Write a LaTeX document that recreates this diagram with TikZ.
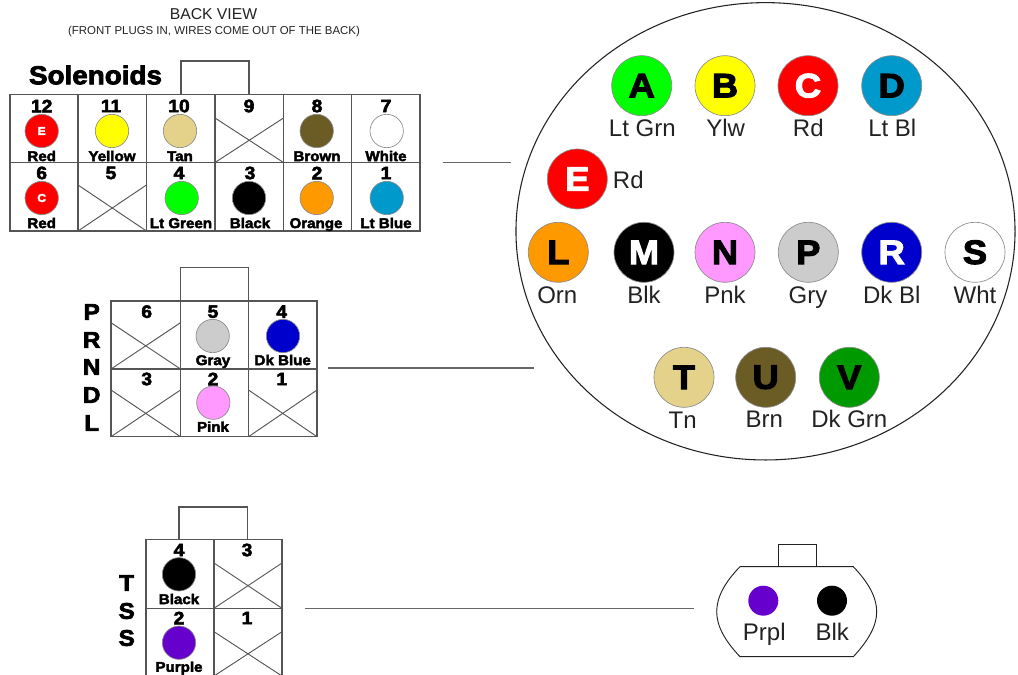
\documentclass[tikz,border=0pt]{standalone}
\usepackage{fontspec}
\usetikzlibrary{shapes.geometric}
\setmainfont{Liberation Sans}
\newfontfamily\heavyfont[FakeBold=3,FakeStretch=1.07]{Liberation Sans Bold}

\definecolor{ltgrn}{HTML}{00FF00}
\definecolor{ylw}{HTML}{FFFF00}
\definecolor{rd}{HTML}{FF0000}
\definecolor{ltbl}{HTML}{0099CC}
\definecolor{orn}{HTML}{FF9900}
\definecolor{pnk}{HTML}{FF99FF}
\definecolor{gry}{HTML}{CCCCCC}
\definecolor{dkbl}{HTML}{0000CC}
\definecolor{tn}{HTML}{E5D28A}
\definecolor{brn}{HTML}{6B5B24}
\definecolor{dkgrn}{HTML}{009900}
\definecolor{prpl}{HTML}{6600CC}
\definecolor{ink}{HTML}{222222}
\definecolor{rule}{HTML}{555555}

\tikzstyle{pin}= [circle,draw=black!45,line width=0.5pt,inner sep=0pt,minimum size=25pt]
\tikzstyle{socket}= [circle,draw=black!45,line width=0.5pt,inner sep=0pt,minimum size=45pt,text=black,font=\heavyfont\fontsize{25.5}{25.5}\selectfont]
\tikzstyle{plugpin}= [circle,inner sep=0pt,minimum size=22.5pt]
\tikzstyle{num}= [inner sep=0pt,text=black,font=\heavyfont\fontsize{13.5}{13.5}\selectfont]
\tikzstyle{wire}= [inner sep=0pt,text height=7.6pt,text depth=0pt,text=black,font=\heavyfont\fontsize{10.6}{10.6}\selectfont]
\tikzstyle{side}= [inner sep=0pt,text=black,font=\heavyfont\fontsize{17}{17}\selectfont]
\tikzstyle{colorname}= [inner sep=0pt,anchor=base,text=ink,font=\fontsize{18}{18}\selectfont]
\tikzstyle{grid}= [draw=rule,line width=1.1pt]
\tikzstyle{cross}= [draw=rule,line width=0.7pt]
\tikzstyle{lead}= [draw=rule!90,line width=1pt]

\begin{document}
\begin{tikzpicture}[x=0.75pt,y=-0.75pt]
		\useasboundingbox (0,0) rectangle (1018,675);

		\node (back) at (213.5,14) [inner sep=0pt,text=ink,font=\fontsize{11.8}{11.8}\selectfont] {BACK VIEW};
		\node (front) at (214,32) [inner sep=0pt,text=ink,font=\fontsize{8.58}{8.58}\selectfont] {(FRONT PLUGS IN, WIRES COME OUT OF THE BACK)};

		% solenoids
		\node (sol) at (95.5,75) [inner sep=0pt,text=black,font=\heavyfont\fontsize{19.5}{19.5}\selectfont] {Solenoids};
		\draw[grid] (181,94.5) -- (181,61) -- (249,61) -- (249,94.5);
		\draw[grid] (10,94.5) rectangle (420,231);
		\draw[grid] (10,162.5) -- (420,162.5);
		\draw[grid] (78,94.5) -- (78,231);
		\draw[grid] (146.5,94.5) -- (146.5,231);
		\draw[grid] (215,94.5) -- (215,231);
		\draw[grid] (283.5,94.5) -- (283.5,231);
		\draw[grid] (351.5,94.5) -- (351.5,231);
		\draw[cross] (215,118) -- (283.5,162.5);
		\draw[cross] (215,162.5) -- (283.5,118);
		\draw[cross] (78,185) -- (146.5,231);
		\draw[cross] (78,231) -- (146.5,185);

		\node (s12) at (41.7,106) [num] {12};
		\node (s11) at (111,106) [num] {11};
		\node (s10) at (179,106) [num] {10};
		\node (s9) at (249,106) [num] {9};
		\node (s8) at (317,106) [num] {8};
		\node (s7) at (386,106) [num] {7};
		\node (s6) at (41.7,173) [num] {6};
		\node (s5) at (111,173) [num] {5};
		\node (s4) at (179,173) [num] {4};
		\node (s3) at (250,173) [num] {3};
		\node (s2) at (317,173) [num] {2};
		\node (s1) at (386,173) [num] {1};

		\node (p12) at (41.7,131) [pin,fill=rd,text=white,font=\heavyfont\fontsize{8.5}{8.5}\selectfont] {E};
		\node (p11) at (112,131) [pin,fill=ylw] {};
		\node (p10) at (180,131) [pin,fill=tn] {};
		\node (p8) at (316.7,131) [pin,fill=brn] {};
		\node (p7) at (386.7,131) [pin,fill=white] {};
		\node (p6) at (41.7,198) [pin,fill=rd,text=white,font=\heavyfont\fontsize{8.5}{8.5}\selectfont] {C};
		\node (p4) at (181.7,198) [pin,fill=ltgrn] {};
		\node (p3) at (249,198) [pin,fill=black] {};
		\node (p2) at (316.7,198) [pin,fill=orn] {};
		\node (p1) at (386.7,198) [pin,fill=ltbl] {};

		\node (w12) at (41.7,156) [wire] {Red};
		\node (w11) at (112,156) [wire] {Yellow};
		\node (w10) at (180,156) [wire] {Tan};
		\node (w8) at (317,156) [wire] {Brown};
		\node (w7) at (386,156) [wire] {White};
		\node (w6) at (41.7,223) [wire] {Red};
		\node (w4) at (181,223) [wire] {Lt Green};
		\node (w3) at (250,223) [wire] {Black};
		\node (w2) at (316,223) [wire] {Orange};
		\node (w1) at (386,223) [wire] {Lt Blue};

		% prndl
		\node (lp) at (91.7,312) [side] {P};
		\node (lr) at (91.7,340) [side] {R};
		\node (ln) at (91.7,367) [side] {N};
		\node (ld) at (91.7,395) [side] {D};
		\node (ll) at (91.7,423) [side] {L};
		\draw[grid] (180.5,301) -- (180.5,267.5) -- (248.5,267.5) -- (248.5,301);
		\draw[grid] (111,301) rectangle (317,436.7);
		\draw[grid] (111,369) -- (317,369);
		\draw[grid] (180.5,301) -- (180.5,436.7);
		\draw[grid] (248.5,301) -- (248.5,436.7);
		\draw[cross] (111,322.7) -- (180.5,369);
		\draw[cross] (111,369) -- (180.5,322.7);
		\draw[cross] (111,390) -- (180.5,436.7);
		\draw[cross] (111,436.7) -- (180.5,390);
		\draw[cross] (248.5,390) -- (317,436.7);
		\draw[cross] (248.5,436.7) -- (317,390);

		\node (n6) at (146.7,311.7) [num] {6};
		\node (n5) at (213,311.7) [num] {5};
		\node (n4) at (281.7,311.7) [num] {4};
		\node (n3) at (146.7,379) [num] {3};
		\node (n2) at (213,379) [num] {2};
		\node (n1) at (281.7,379) [num] {1};

		\node (q5) at (212.7,336) [pin,fill=gry] {};
		\node (q4) at (283,336) [pin,fill=dkbl] {};
		\node (q2) at (213.3,402.7) [pin,fill=pnk] {};

		\node (x5) at (213,360) [wire] {Gray};
		\node (x4) at (282.7,360) [wire] {Dk Blue};
		\node (x2) at (213,426.7) [wire] {Pink};

		% tss
		\node (lt) at (126.7,583) [side] {T};
		\node (ls1) at (126.7,611) [side] {S};
		\node (ls2) at (126.7,638) [side] {S};
		\draw[grid] (179,539.3) -- (179,507) -- (247.5,507) -- (247.5,539.3);
		\draw[grid] (146,675) -- (146,539.3) -- (282,539.3) -- (282,675);
		\draw[grid] (146,608.3) -- (282,608.3);
		\draw[grid] (214,539.3) -- (214,675);
		\draw[cross] (214,563) -- (282,608.3);
		\draw[cross] (214,608.3) -- (282,563);
		\draw[cross] (214,631.7) -- (282,676);
		\draw[cross] (214,676) -- (282,631.7);

		\node (t4) at (179,550) [num] {4};
		\node (t3) at (247,550) [num] {3};
		\node (t2) at (179,618) [num] {2};
		\node (t1) at (247,618) [num] {1};

		\node (u4) at (179,574.3) [pin,fill=black] {};
		\node (u2) at (179,642.7) [pin,fill=prpl] {};

		\node (y4) at (179,599) [wire] {Black};
		\node (y2) at (179,666.7) [wire] {Purple};

		% big plug
		\node (plug) at (765.5,231.3) [ellipse,draw=ink,line width=0.8pt,inner sep=0pt,minimum width=374.3pt,minimum height=343pt] {};

		\node (a) at (641.7,85.7) [socket,fill=ltgrn] {A};
		\node (b) at (725,85.7) [socket,fill=ylw] {B};
		\node (c) at (808,85.7) [socket,fill=rd,text=white] {C};
		\node (d) at (891.7,85.7) [socket,fill=ltbl] {D};
		\node (e) at (577.3,179) [socket,fill=rd,text=white] {E};
		\node (l) at (558.3,252.3) [socket,fill=orn] {L};
		\node (m) at (644,252.3) [socket,fill=black,text=white] {M};
		\node (n) at (725,252.3) [socket,fill=pnk] {N};
		\node (pp) at (808.3,252.3) [socket,fill=gry] {P};
		\node (r) at (891.7,252.3) [socket,fill=dkbl,text=white] {R};
		\node (s) at (975,252.3) [socket,fill=white] {S};
		\node (tt) at (684,377.3) [socket,fill=tn] {T};
		\node (uu) at (765.7,377.3) [socket,fill=brn] {U};
		\node (v) at (849.3,377.3) [socket,fill=dkgrn] {V};

		\node (ca) at (642.3,136.7) [colorname] {Lt Grn};
		\node (cb) at (725.7,136.7) [colorname] {Ylw};
		\node (cc) at (808.3,136.7) [colorname] {Rd};
		\node (cd) at (892.3,136.7) [colorname] {Lt Bl};
		\node (ce) at (628.3,188.3) [colorname] {Rd};
		\node (cl) at (557.3,303.3) [colorname] {Orn};
		\node (cm) at (644,303.3) [colorname] {Blk};
		\node (cn) at (725,303.3) [colorname] {Pnk};
		\node (cp) at (808,303.3) [colorname] {Gry};
		\node (cr) at (891.7,303.3) [colorname] {Dk Bl};
		\node (cs) at (975,303.3) [colorname] {Wht};
		\node (ct) at (682.7,428.3) [colorname] {Tn};
		\node (cu) at (764.3,427.3) [colorname] {Brn};
		\node (cv) at (849.3,427.3) [colorname] {Dk Grn};

		% small plug
		\draw[draw=ink,line width=0.7pt] (778,566.7) -- (778,544) -- (816,544) -- (816,566.7);
		\draw[draw=ink,line width=0.7pt] (740,566.7) -- (853.3,566.7)
			.. controls (868,582) and (876.7,597) .. (876.7,611.7)
			.. controls (876.7,626) and (868,641) .. (853.3,656.7)
			-- (740,656.7)
			.. controls (725,641) and (716.7,626) .. (716.7,611.7)
			.. controls (716.7,597) and (725,582) .. (740,566.7) -- cycle;

		\node (prp) at (763.3,600.7) [plugpin,fill=prpl] {};
		\node (blk) at (832,600.7) [plugpin,fill=black] {};
		\node (cprp) at (764.3,640) [colorname] {Prpl};
		\node (cblk) at (832.3,640) [colorname] {Blk};

		% leads
		\coordinate (sol1) at (443,162.5);
		\coordinate (sol2) at (511,162.5);
		\coordinate (prn1) at (328,368);
		\coordinate (prn2) at (534,368);
		\coordinate (tss1) at (305,608.5);
		\coordinate (tss2) at (694,608.5);
		\path[lead] (sol1) edge[] node {} (sol2);
		\path[lead] (prn1) edge[] node {} (prn2);
		\path[lead] (tss1) edge[] node {} (tss2);

		\end{tikzpicture}
\end{document}
